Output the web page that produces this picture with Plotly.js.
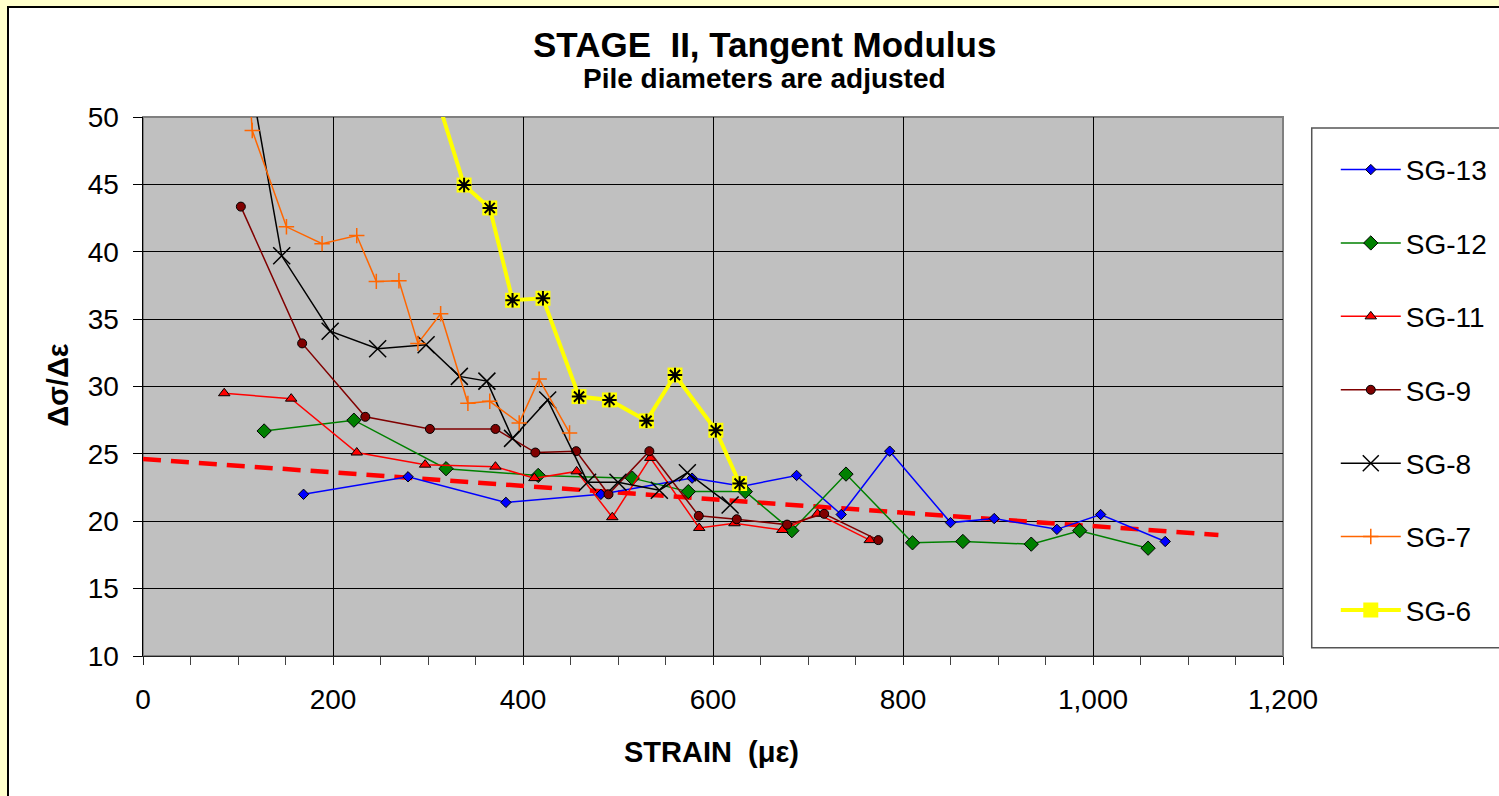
<!DOCTYPE html>
<html>
<head>
<meta charset="utf-8">
<script src="https://cdn.plot.ly/plotly-3.0.1.min.js"></script>
<style>
  html, body { margin:0; padding:0; background:#FFFFCC; overflow:hidden; width:1499px; height:796px; }
  #chart { position:absolute; left:7px; top:6px; width:1520px; height:820px;
           border-left:2px solid #000; border-top:2px solid #000; background:#fff; }
</style>
</head>
<body>
<div id="chart"></div>
<script>
// ---- data ----
const seriesNames = ["SG-13", "SG-12", "SG-11", "SG-9", "SG-8", "SG-7", "SG-6"];

const sg13_x = [169, 279, 382, 482, 578, 631, 688, 735, 786, 850, 896, 962, 1008, 1076];
const sg13_y = [22.0, 23.3, 21.4, 22.0, 23.2, 22.6, 23.4, 20.5, 25.2, 19.9, 20.2, 19.4, 20.5, 18.5];

const sg12_x = [127.5, 222, 319, 416, 515, 574, 634, 683, 740, 810, 863, 935, 986, 1058];
const sg12_y = [26.7, 27.5, 23.9, 23.4, 23.2, 22.2, 22.2, 19.3, 23.5, 18.4, 18.5, 18.3, 19.3, 18.0];

const sg11_x = [85.5, 156, 225, 297, 371, 412, 456.5, 494, 534, 585.5, 622.6, 673, 710, 765];
const sg11_y = [29.5, 29.1, 25.1, 24.2, 24.05, 23.2, 23.7, 20.3, 24.7, 19.5, 19.85, 19.35, 20.55, 18.6];

const sg9_x = [103, 167.5, 234, 302, 371, 413, 456, 490, 533, 585, 625, 678, 717, 774];
const sg9_y = [43.35, 33.2, 27.75, 26.85, 26.85, 25.1, 25.2, 22.0, 25.2, 20.4, 20.15, 19.75, 20.55, 18.6];

const sg8_x = [100, 146, 197, 247, 298, 333, 362, 389, 426, 468, 500, 543.5, 573, 618];
const sg8_y = [58, 39.7, 34.1, 32.8, 33.1, 30.75, 30.4, 26.15, 29.0, 22.9, 22.9, 22.3, 23.6, 21.2];

const sg7_x = [106, 115, 151, 188.5, 225, 245.6, 269.4, 289.4, 313.3, 342, 365, 396, 417, 449];
const sg7_y = [58, 49.0, 41.85, 40.6, 41.2, 37.8, 37.85, 33.2, 35.4, 28.75, 28.9, 27.3, 30.55, 26.55];

const sg6_x = [285, 338, 365, 389, 421, 459, 491, 530, 560, 603, 628];
const sg6_y = [57, 44.95, 43.25, 36.4, 36.55, 29.25, 29.0, 27.45, 30.85, 26.75, 22.8];

const trend_x = [0, 1132];
const trend_y = [24.62, 18.98];

const xTickVals = [0, 200, 400, 600, 800, 1000, 1200];
const xTickText = ["0", "200", "400", "600", "800", "1,000", "1,200"];
const yTickVals = [10, 15, 20, 25, 30, 35, 40, 45, 50];

const titleText = "STAGE  II, Tangent Modulus";
const subtitleText = "Pile diameters are adjusted";
const xTitleText = "STRAIN  (\u03bc\u03b5)";
const yTitleText = "\u0394\u03c3/\u0394\u03b5";

// ---- traces ----
const F = "Arial, 'Liberation Sans', sans-serif";
function line(x, y, name, color, width, marker, grp) {
  return { type:"scatter", mode:"lines+markers", x:x, y:y, name:name,
           legendgroup:grp, line:{color:color, width:width}, marker:marker };
}
const traces = [
  { type:"scatter", mode:"lines", x:trend_x, y:trend_y, showlegend:false, hoverinfo:"skip",
    line:{color:"#FF0000", width:4.5, dash:"18px,10px"} },
  line(sg13_x, sg13_y, seriesNames[0], "#0000FF", 1.5,
       {symbol:"diamond", size:8, color:"#0000FF", line:{color:"#000", width:1}}, "g1"),
  line(sg12_x, sg12_y, seriesNames[1], "#008000", 1.5,
       {symbol:"diamond", size:11, color:"#008000", line:{color:"#000", width:1}}, "g2"),
  line(sg11_x, sg11_y, seriesNames[2], "#FF0000", 1.5,
       {symbol:"triangle-up", size:10, color:"#FF0000", line:{color:"#000", width:1}}, "g3"),
  line(sg9_x, sg9_y, seriesNames[3], "#800000", 1.5,
       {symbol:"circle", size:9, color:"#800000", line:{color:"#000", width:1}}, "g4"),
  line(sg8_x, sg8_y, seriesNames[4], "#000000", 1.5,
       {symbol:"x-thin-open", size:17, color:"#000", line:{color:"#000", width:1.5}}, "g5"),
  line(sg7_x, sg7_y, seriesNames[5], "#FF6600", 1.5,
       {symbol:"cross-thin-open", size:11, color:"#FF6600", line:{color:"#FF6600", width:1.5}}, "g6"),
  line(sg6_x, sg6_y, seriesNames[6], "#FFFF00", 4,
       {symbol:"square", size:15, color:"#FFFF00", line:{width:0}}, "g7"),
  { type:"scatter", mode:"markers", x:sg6_x, y:sg6_y, showlegend:false, legendgroup:"g7", hoverinfo:"skip",
    marker:{symbol:"asterisk-open", size:12, color:"#000", line:{color:"#000", width:2}} }
];

const layout = {
  width:1520, height:820,
  margin:{l:134, r:246, t:109, b:172},
  paper_bgcolor:"#FFFFFF", plot_bgcolor:"#C0C0C0",
  font:{family:F, color:"#000", size:28},
  showlegend:true,
  legend:{x:1.0463, y:0.9483, xanchor:"left", yanchor:"top", bgcolor:"rgba(0,0,0,0)",
          borderwidth:0, font:{family:F, size:28, color:"#000"}, tracegroupgap:34,
          itemwidth:60},
  xaxis:{range:[0,1200], tickvals:xTickVals, ticktext:xTickText, showgrid:true, gridcolor:"#000", gridwidth:1,
         zeroline:false, showline:true, linecolor:"#222", linewidth:1, ticks:"outside", ticklen:8,
         tickcolor:"#222", tickfont:{size:28}, ticklabelstandoff:10,
         minor:{dtick:50, tick0:0, ticks:"outside", ticklen:8, tickcolor:"#444", showgrid:false}},
  yaxis:{range:[10,50], tickvals:yTickVals, showgrid:true, gridcolor:"#000", gridwidth:1,
         zeroline:false, showline:true, linecolor:"#000", linewidth:1.5, ticks:"outside", ticklen:9,
         tickcolor:"#000", tickfont:{size:28}, ticklabelstandoff:8},
  shapes:[
    {type:"rect", xref:"paper", yref:"paper", x0:0, x1:1, y0:0, y1:1, line:{color:"#808080", width:2}, layer:"below"},
    {type:"rect", xref:"paper", yref:"paper", x0:1.0252, x1:1.6, y0:0.0154, y1:0.9796,
     line:{color:"#555", width:1.5}, fillcolor:"rgba(0,0,0,0)"}
  ],
  annotations:[
    {text:"<b>"+titleText+"</b>", xref:"paper", yref:"paper", x:0.5452, y:1.1336, xanchor:"center", yanchor:"middle",
     showarrow:false, font:{family:F, size:35}},
    {text:"<b>"+subtitleText+"</b>", xref:"paper", yref:"paper", x:0.5452, y:1.0714, xanchor:"center", yanchor:"middle",
     showarrow:false, font:{family:F, size:28}},
    {text:"<b>"+xTitleText+"</b>", xref:"paper", yref:"paper", x:0.499, y:-0.178, xanchor:"center", yanchor:"middle",
     showarrow:false, font:{family:F, size:29}},
    {text:"<b>"+yTitleText+"</b>", xref:"paper", yref:"paper", x:-0.0746, y:0.503, xanchor:"center", yanchor:"middle",
     showarrow:false, textangle:-90, font:{family:F, size:29}}
  ]
};

Plotly.newPlot("chart", traces, layout, {staticPlot:true, displayModeBar:false});
</script>
</body>
</html>
